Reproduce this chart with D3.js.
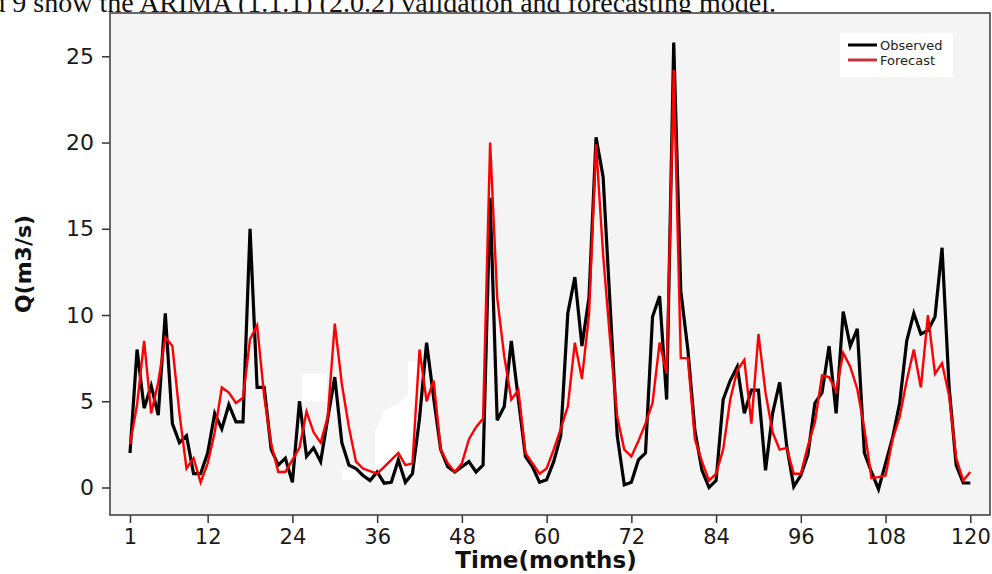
<!DOCTYPE html>
<html>
<head>
<meta charset="utf-8">
<script src="https://cdn.jsdelivr.net/npm/d3@7/dist/d3.min.js"></script>
<style>
  html, body { margin: 0; padding: 0; background: #ffffff; }
  svg { display: block; }
</style>
</head>
<body>
<svg id="chart" width="992" height="574"></svg>
<script>
// Monthly discharge: observed vs ARIMA forecast, months 1..120
const months = d3.range(1, 121);

const observed = [
  2.0, 8.0, 4.6, 5.9, 4.2, 10.1, 3.7, 2.6, 3.0, 0.8,
  0.8, 2.0, 4.3, 3.4, 4.8, 3.8, 3.8, 15.0, 5.8, 5.8,
  2.2, 1.3, 1.7, 0.3, 5.0, 1.8, 2.3, 1.5, 4.0, 6.4,
  2.6, 1.3, 1.1, 0.7, 0.4, 0.9, 0.25, 0.3, 1.6, 0.3,
  0.8, 4.0, 8.4, 5.2, 2.2, 1.2, 0.9, 1.2, 1.5, 0.9,
  1.3, 16.8, 3.9, 4.7, 8.5, 5.1, 1.8, 1.2, 0.3, 0.45,
  1.5, 3.0, 10.1, 12.2, 8.2, 11.0, 20.3, 18.0, 10.5, 3.0,
  0.15, 0.3, 1.6, 2.0, 9.9, 11.1, 5.1, 25.8, 11.4, 8.0,
  3.3, 1.0, 0.0, 0.4, 5.1, 6.2, 7.0, 4.3, 5.65, 5.65,
  1.0, 4.3, 6.1, 2.4, 0.05, 0.7, 1.9, 4.9, 5.5, 8.2,
  4.3, 10.2, 8.2, 9.2, 2.0, 0.9, -0.1, 1.4, 2.9, 4.9,
  8.5, 10.1, 8.9, 9.1, 9.9, 13.9, 5.8, 1.3, 0.26, 0.26
];

const forecast = [
  2.5, 4.8, 8.5, 4.3, 6.1, 8.7, 8.2, 4.3, 1.1, 1.7,
  0.3, 1.4, 3.2, 5.8, 5.5, 4.9, 5.2, 8.6, 9.4, 5.3,
  2.5, 0.9, 0.9, 1.6, 2.3, 4.4, 3.2, 2.6, 4.1, 9.5,
  6.0, 3.5, 1.5, 1.1, 0.95, 0.8, 1.2, 1.6, 2.0, 1.3,
  1.4, 8.0, 5.0, 6.2, 2.2, 1.4, 0.9, 1.4, 2.8, 3.5,
  4.0, 20.0, 11.0, 7.6, 5.1, 5.65, 2.0, 1.4, 0.8, 1.1,
  2.2, 3.4, 4.7, 8.4, 6.3, 10.0, 19.9, 13.5, 8.5, 4.1,
  2.2, 1.8, 2.7, 3.7, 4.9, 8.4, 6.6, 24.2, 7.5, 7.5,
  2.8, 1.5, 0.4, 0.8, 2.2, 5.1, 6.8, 7.4, 3.7, 8.9,
  5.5, 3.2, 2.2, 2.3, 0.8, 0.8, 2.4, 3.8, 6.5, 6.4,
  5.6, 7.8, 7.0, 5.7, 3.4, 0.55, 0.6, 0.7, 2.8, 4.1,
  6.2, 8.0, 5.8, 10.0, 6.6, 7.2, 5.3, 1.7, 0.4, 0.9
];

const xTicks = [1, 12, 24, 36, 48, 60, 72, 84, 96, 108, 120];
const yTicks = [0, 5, 10, 15, 20, 25];
const seriesNames = ["Observed", "Forecast"];

// Light blotches in the plot background, given in (month, Q) units
const blotches = [
  [[25.4, 6.6], [28.9, 6.6], [28.9, 5.0], [25.4, 5.0]],
  [[31.0, 1.0], [33.9, 1.0], [33.9, 0.45], [31.0, 0.45]],
  [[40.4, 7.3], [41.8, 7.3], [41.8, 1.0], [35.7, 1.0], [35.7, 3.2],
   [37.0, 4.5], [38.9, 4.8], [40.4, 5.4]]
];

const svg = d3.select("#chart");

// Plot frame
const frame = { left: 110, top: 13, right: 990, bottom: 515 };

const x = d3.scaleLinear().domain([1, 120]).range([130, 970.3]);
const y = d3.scaleLinear().domain([0, 25]).range([487.5, 56.3]);

// Caption line above the figure (partly cut by the top edge)
svg.append("text")
  .attr("x", 776)
  .attr("y", 12)
  .attr("text-anchor", "end")
  .attr("font-family", "'Liberation Serif', 'Times New Roman', serif")
  .attr("font-size", 28)
  .attr("fill", "#111")
  .text("and 9 show the ARIMA (1.1.1) (2.0.2) validation and forecasting model.");

// Plot area background
svg.append("rect")
  .attr("x", frame.left)
  .attr("y", frame.top)
  .attr("width", frame.right - frame.left)
  .attr("height", frame.bottom - frame.top)
  .attr("fill", "#f4f4f4");

svg.append("g")
  .selectAll("polygon")
  .data(blotches)
  .join("polygon")
  .attr("points", d => d.map(p => [x(p[0]), y(p[1])].join(",")).join(" "))
  .attr("fill", "#ffffff");

// Axes
const xAxis = d3.axisBottom(x)
  .tickValues(xTicks)
  .tickSize(8)
  .tickPadding(6)
  .tickFormat(d3.format("d"));

const yAxis = d3.axisLeft(y)
  .tickValues(yTicks)
  .tickSize(8)
  .tickPadding(8)
  .tickFormat(d3.format("d"));

const gx = svg.append("g")
  .attr("transform", `translate(0,${frame.bottom})`)
  .call(xAxis);
gx.select(".domain").remove();
gx.selectAll(".tick line").attr("stroke", "#333").attr("stroke-width", 1.5);
gx.selectAll(".tick text")
  .attr("font-family", "'DejaVu Sans', Verdana, sans-serif")
  .attr("font-size", 21)
  .attr("fill", "#1a1a1a");

const gy = svg.append("g")
  .attr("transform", `translate(${frame.left},0)`)
  .call(yAxis);
gy.select(".domain").remove();
gy.selectAll(".tick line").attr("stroke", "#333").attr("stroke-width", 1.5);
gy.selectAll(".tick text")
  .attr("font-family", "'DejaVu Sans', Verdana, sans-serif")
  .attr("font-size", 22)
  .attr("fill", "#1a1a1a");

// Frame border
svg.append("rect")
  .attr("x", frame.left)
  .attr("y", frame.top)
  .attr("width", frame.right - frame.left)
  .attr("height", frame.bottom - frame.top)
  .attr("fill", "none")
  .attr("stroke", "#444")
  .attr("stroke-width", 1.6);

// Series lines
const line = d3.line()
  .x((d, i) => x(months[i]))
  .y(d => y(d));

svg.append("path")
  .datum(observed)
  .attr("d", line)
  .attr("fill", "none")
  .attr("stroke", "#000000")
  .attr("stroke-width", 3.2)
  .attr("stroke-linejoin", "miter");

svg.append("path")
  .datum(forecast)
  .attr("d", line)
  .attr("fill", "none")
  .attr("stroke", "#ff0000")
  .attr("stroke-width", 2.4)
  .attr("stroke-linejoin", "miter");

// Axis titles
svg.append("text")
  .attr("x", 546)
  .attr("y", 568)
  .attr("text-anchor", "middle")
  .attr("font-family", "'DejaVu Sans', Verdana, sans-serif")
  .attr("font-weight", "bold")
  .attr("font-size", 23)
  .attr("fill", "#111")
  .text("Time(months)");

svg.append("text")
  .attr("transform", "translate(31,264) rotate(-90)")
  .attr("text-anchor", "middle")
  .attr("font-family", "'DejaVu Sans', Verdana, sans-serif")
  .attr("font-weight", "bold")
  .attr("font-size", 22)
  .attr("fill", "#111")
  .text("Q(m3/s)");

// Legend
const legend = svg.append("g");
legend.append("rect")
  .attr("x", 840).attr("y", 33)
  .attr("width", 113).attr("height", 44)
  .attr("fill", "#ffffff");

const legendColors = ["#000000", "#c8323c"];
seriesNames.forEach((name, i) => {
  const ly = 45 + i * 15;
  legend.append("line")
    .attr("x1", 848).attr("x2", 877)
    .attr("y1", ly).attr("y2", ly)
    .attr("stroke", legendColors[i])
    .attr("stroke-width", 3);
  legend.append("text")
    .attr("x", 880).attr("y", ly + 4.5)
    .attr("font-family", "'DejaVu Sans', Verdana, sans-serif")
    .attr("font-size", 13)
    .attr("fill", "#222")
    .text(name);
});
</script>
</body>
</html>
